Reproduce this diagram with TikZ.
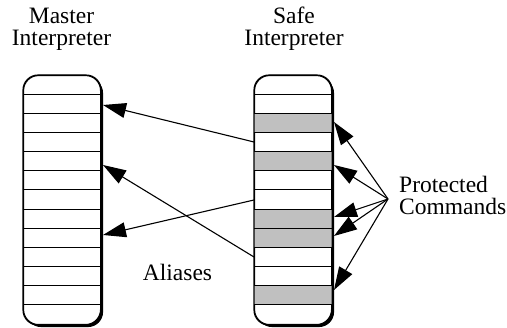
\documentclass[tikz,border=0pt]{standalone}
\usepackage{fontspec}
\setmainfont{Liberation Serif}
\usetikzlibrary{arrows.meta,shadows}
\definecolor{cmdgray}{RGB}{192,192,192}

% one interpreter: a rounded stack of 11 slots between two caps
% #1 = left x, #2 = node name, #3 = list of shaded slots (0-based)
\newcommand{\slotstack}[3]{%
  \node[stackbody, anchor=north west] (#2) at (#1,75) {};
  \foreach \s in {#3}
    \fill[cmdgray] ([yshift={-(\s+1)*19.15pt}]#2.north west)
      rectangle ([yshift={-(\s+2)*19.15pt}]#2.north east);
  \foreach \k in {1,...,12}
    \draw[line width=0.9pt] ([yshift={-\k*19.15pt}]#2.north west)
      -- ([yshift={-\k*19.15pt}]#2.north east);
  \draw[line width=1.1pt, rounded corners=15pt]
    (#2.north west) rectangle (#2.south east);
}

\begin{document}
\begin{tikzpicture}[x=1pt, y=-1pt,
  lbl/.style={font=\fontsize{23.5}{22}\selectfont, inner sep=0pt},
  stackbody/.style={draw, line width=1.1pt, fill=white, rounded corners=15pt,
    minimum width=77pt, minimum height=249pt, inner sep=0pt,
    drop shadow={shadow xshift=2.5pt, shadow yshift=-2.5pt, fill=black, opacity=1}},
  link/.style={line width=1.1pt, -{Triangle[length=23pt,width=15pt]}}]
\useasboundingbox (0,0) rectangle (507,328);

% titles (base anchor = baseline of the last line)
\node[lbl, anchor=base, align=center] (mt) at (61.5,46) {Master\\Interpreter};
\node[lbl, anchor=base, align=center] (st) at (294,46) {Safe\\Interpreter};

% the two interpreters
\slotstack{23}{master}{}
\slotstack{254}{safe}{1,3,6,7,10}

% alias links from the safe interpreter to the master
\coordinate (a1) at (254,142);
\coordinate (a2) at (254,200);
\coordinate (a3) at (254,257);
\coordinate (m1) at (103,105);
\coordinate (m2) at (103,235);
\coordinate (m3) at (103,165);
\draw[link] (a1) -- (m1);
\draw[link] (a2) -- (m2);
\draw[link] (a3) -- (m3);
\node[lbl, anchor=base] (al) at (177.5,281) {Aliases};

% protected commands
\node[lbl, anchor=base west, align=left] (pc) at (399,215) {Protected\\Commands};
\coordinate (hub) at (388,199);
\coordinate (p1) at (334,122);
\coordinate (p2) at (334,165);
\coordinate (p3) at (334,217);
\coordinate (p4) at (334,236);
\coordinate (p5) at (334,290);
\foreach \p in {p1,p2,p3,p4,p5}
  \draw[link] (hub) -- (\p);
\end{tikzpicture}
\end{document}
